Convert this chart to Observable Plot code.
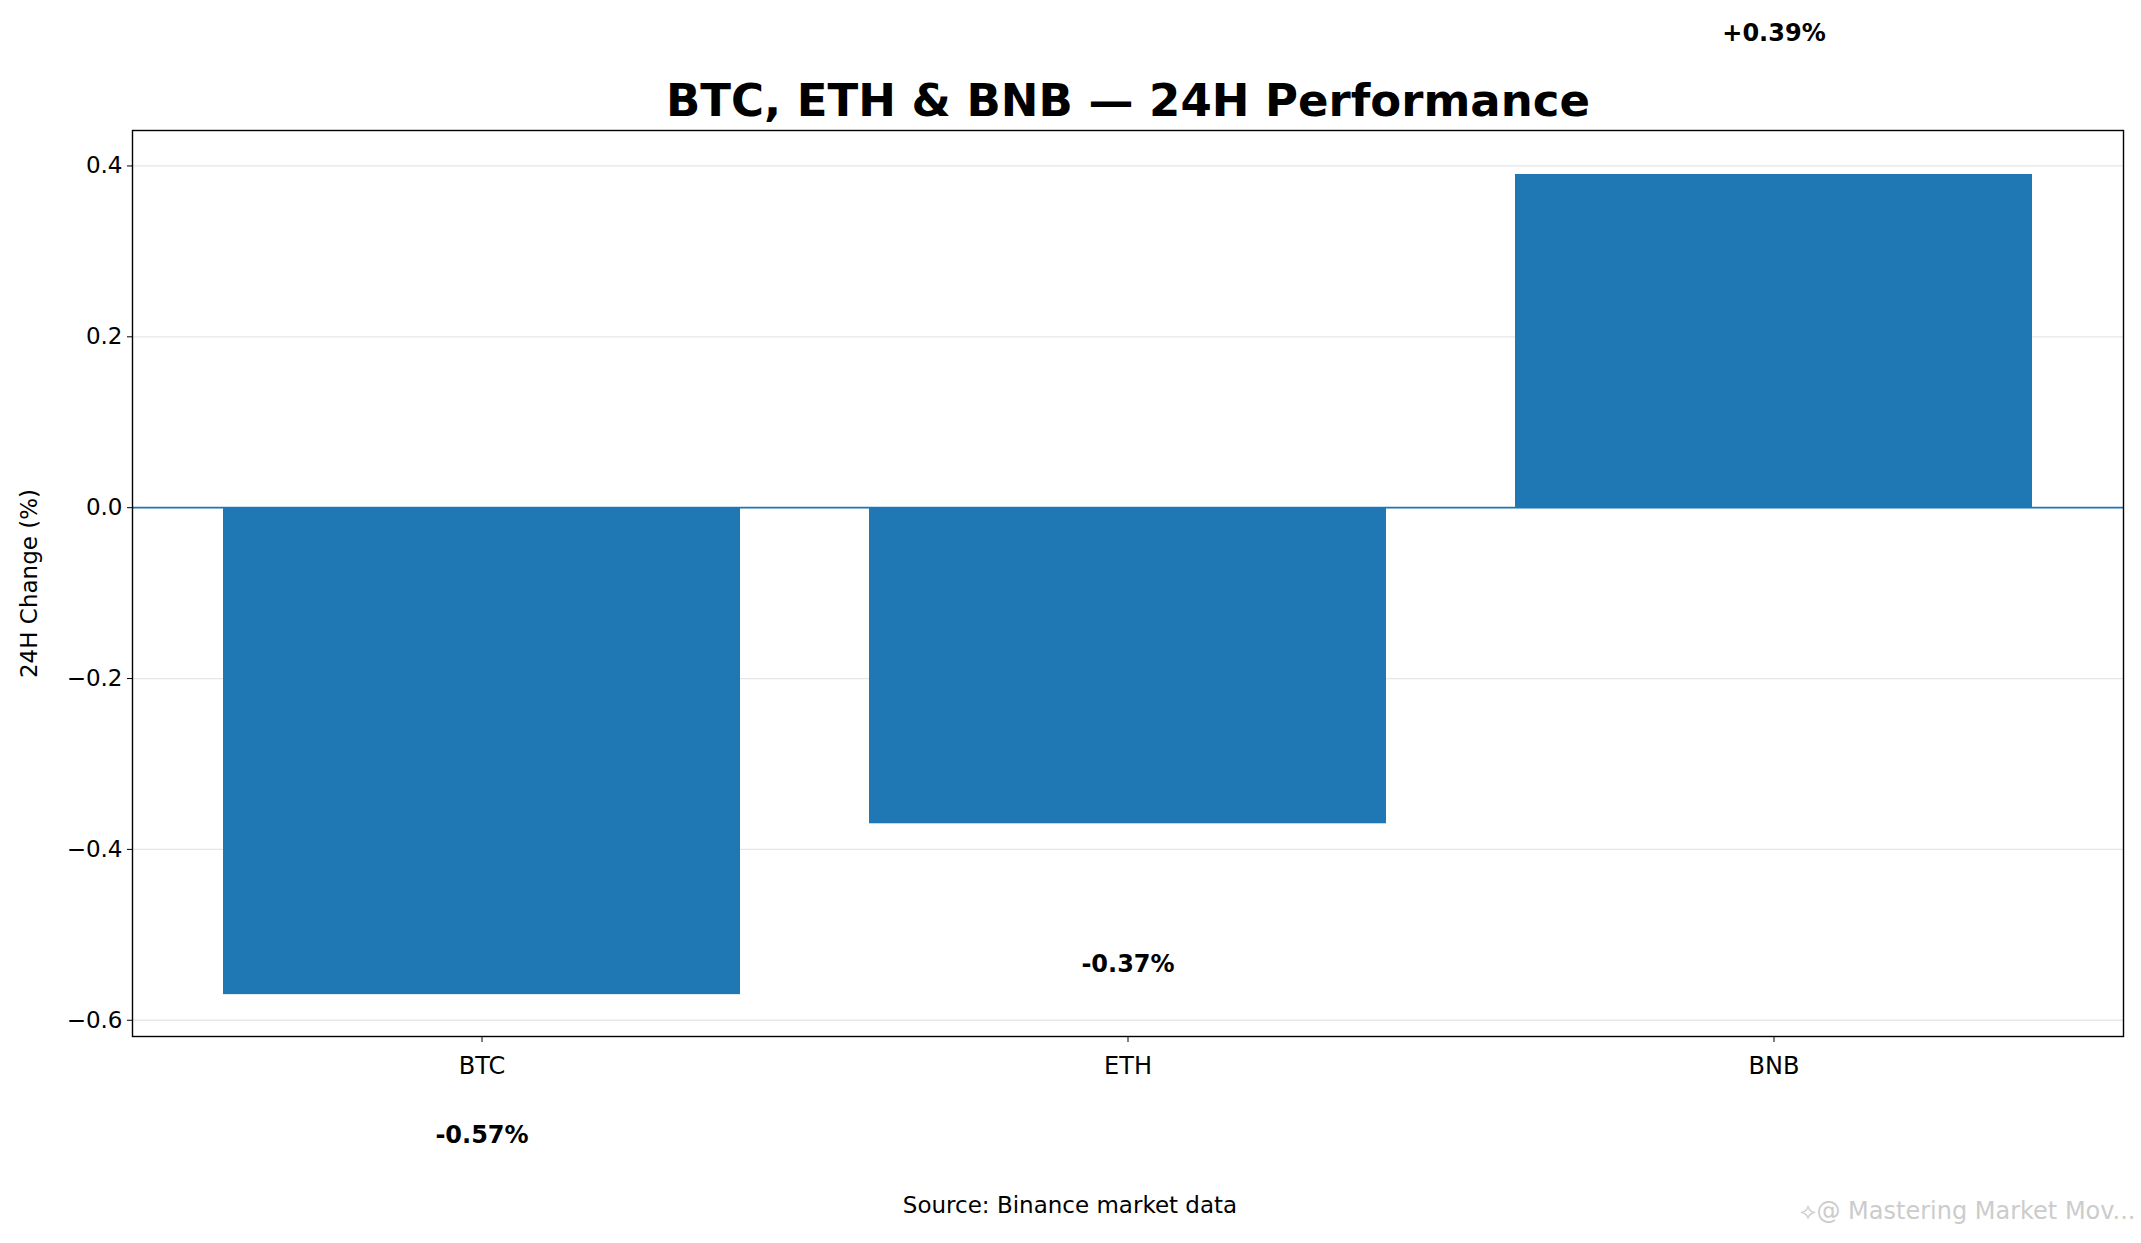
<!DOCTYPE html>
<html><head><meta charset="utf-8">
<script src="https://cdn.jsdelivr.net/npm/d3@7"></script>
<script src="https://cdn.jsdelivr.net/npm/@observablehq/plot@0.6"></script>
<style>body{margin:0;background:#fff;font-family:"DejaVu Sans";}</style>
</head><body><div id="c"></div>
<script>
const coins = ["BTC","ETH","BNB"];
const changes = [-0.57,-0.37,0.39];
const yTicks = [-0.6,-0.4,-0.2,0.0,0.2,0.4];
const labelOffset = 0.165;
const data = coins.map((c,i)=>({coin:c, v:changes[i], ly: changes[i] + Math.sign(changes[i])*labelOffset, label:(changes[i]>0?"+":"")+changes[i].toFixed(2)+"%"}));
const chart = Plot.plot({
  width:2141, height:1243,
  marginLeft:132, marginRight:18, marginTop:130, marginBottom:207,
  style:{fontFamily:"DejaVu Sans", fontSize:"23px", color:"#000", background:"#fff"},
  x:{domain:coins, paddingInner:0.2, paddingOuter:0.141, label:null},
  y:{domain:[-0.619,0.4415], label:null},
  marks:[
    Plot.gridY(yTicks,{stroke:"#e6e6e6", strokeOpacity:1, strokeWidth:1.3}),
    Plot.barY(data,{x:"coin", y:"v", fill:"#1f77b4"}),
    Plot.ruleY([0],{stroke:"#1f77b4", strokeWidth:1.8}),
    Plot.frame({stroke:"#000", strokeWidth:1.4}),
    Plot.axisY(yTicks,{tickFormat:d=>d.toFixed(1).replace("-","−"), tickSize:5, tickPadding:5, fontSize:23, label:null}),
    Plot.axisX({tickSize:6, tickPadding:14, fontSize:24, label:null}),
    Plot.text(data,{x:"coin", y:"ly", text:"label", fontWeight:"bold", fontSize:24, clip:false}),
    Plot.text(["BTC, ETH & BNB — 24H Performance"],{frameAnchor:"top", dy:-46, fontSize:45, fontWeight:"bold"}),
    Plot.text(["24H Change (%)"],{frameAnchor:"left", textAnchor:"middle", dx:-103, rotate:-90, fontSize:23}),
    Plot.text(["Source: Binance market data"],{frameAnchor:"bottom", dx:-58, dy:176, fontSize:23}),
    Plot.text(["⟡@ Mastering Market Mov..."],{frameAnchor:"bottom-right", dx:12, dy:182, textAnchor:"end", fontSize:24, fill:"#ccc"})
  ]
});
document.getElementById("c").append(chart);
</script></body></html>
